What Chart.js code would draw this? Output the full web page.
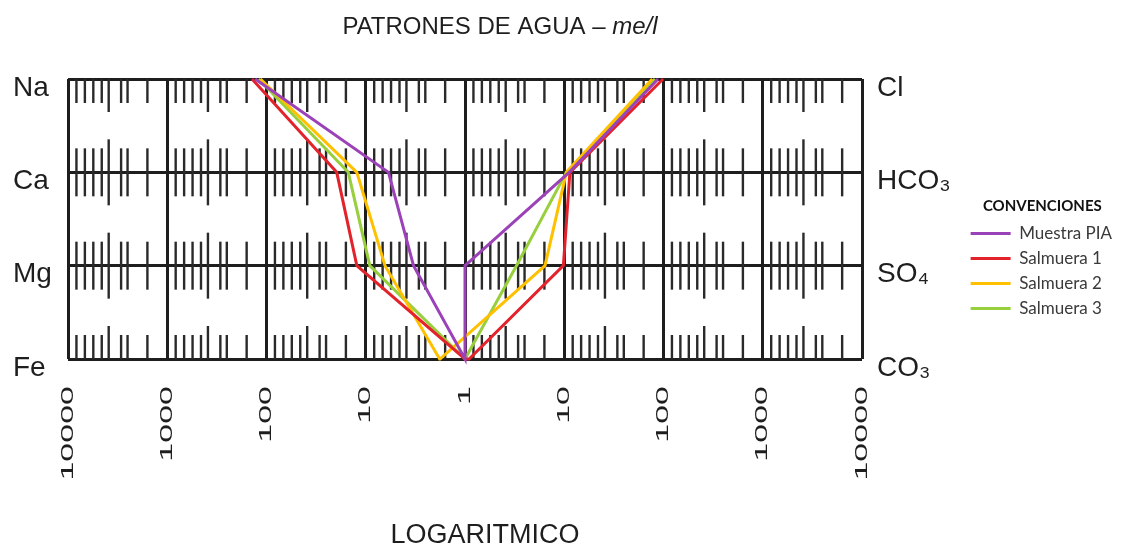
<!DOCTYPE html>
<html>
<head>
<meta charset="utf-8">
<script src="https://cdn.jsdelivr.net/npm/chart.js@4.4.1/dist/chart.umd.min.js"></script>
<style>
  html, body { margin: 0; padding: 0; background: #ffffff; }
  #wrap { width: 1122px; height: 548px; }
</style>
</head>
<body>
<div id="wrap"><canvas id="stiff" width="1122" height="548"></canvas></div>
<script>
// Stiff diagram: cations to the left of the "1" line, anions to the right, log scale in me/l.
const titleMain = 'PATRONES DE AGUA – ';
const titleUnit = 'me/l';
const axisCaption = 'LOGARITMICO';

const cationLabels = ['Na', 'Ca', 'Mg', 'Fe'];
const anionLabels = ['Cl', 'HCO₃', 'SO₄', 'CO₃'];
const decadeLabels = ['10000', '1000', '100', '10', '1', '10', '100', '1000', '10000'];

const seriesNames = ['Muestra PIA', 'Salmuera 1', 'Salmuera 2', 'Salmuera 3'];
const seriesColors = ['#9b42b8', '#e3232c', '#ffc000', '#98cf3c'];

// cations, me/l: Na, Ca, Mg, Fe
const muestraPiaCat = [130, 5.9, 3.3, 1.0];
const salmuera1Cat = [140, 19.6, 12.3, 1.0];
const salmuera2Cat = [115, 12.3, 6.4, 1.8];
const salmuera3Cat = [120, 15.0, 9.1, 1.0];

// anions, me/l: Cl, HCO3, SO4, CO3
const muestraPiaAn = [88, 11.2, 1.0, 1.0];
const salmuera1An = [99, 11.4, 9.8, 1.1];
const salmuera2An = [77, 10.5, 6.4, 0.56];
const salmuera3An = [82, 10.5, 3.3, 1.0];

const cationSets = [muestraPiaCat, salmuera1Cat, salmuera2Cat, salmuera3Cat];
const anionSets = [muestraPiaAn, salmuera1An, salmuera2An, salmuera3An];

// printed log-paper hash marks inside each decade (fraction of the decade width)
const paperTicks = [0.085, 0.17, 0.255, 0.34, 0.41, 0.535, 0.60, 0.80];
const longPaperTick = 0.41;

const TOP_ROW = cationLabels.length - 1;

// Row 3 = Na/Cl ... row 0 = Fe/CO3; cations get negative log positions, anions positive.
function stiffPolygon(cat, an) {
  const pts = [];
  cat.forEach((v, i) => pts.push({ x: -Math.log10(v), y: TOP_ROW - i }));
  for (let i = an.length - 1; i >= 0; i--) {
    pts.push({ x: Math.log10(an[i]), y: TOP_ROW - i });
  }
  return pts;
}

const datasets = seriesNames.map((name, i) => ({
  label: name,
  data: stiffPolygon(cationSets[i], anionSets[i]),
  borderColor: seriesColors[i],
  backgroundColor: seriesColors[i],
  borderWidth: 3,
  pointRadius: 0,
  tension: 0,
  fill: false,
  clip: false
}));

const GRID_COLOR = '#1e1e1e';
const TEXT_COLOR = '#1e1e1e';
const LABEL_STRETCH = 2.0;

const paperPlugin = {
  id: 'paperTicks',
  beforeDatasetsDraw(chart) {
    const { ctx } = chart;
    const xs = chart.scales.x, ys = chart.scales.y;
    ctx.save();
    ctx.strokeStyle = '#2a2a2a';
    ctx.lineWidth = 2.4;
    for (let d = -4; d < 4; d++) {
      for (const f of paperTicks) {
        const px = xs.getPixelForValue(d + f);
        const len = f === longPaperTick ? 33 : 24;
        for (let r = 0; r <= TOP_ROW; r++) {
          const py = ys.getPixelForValue(r);
          const up = r < TOP_ROW ? len : 0;
          const down = r > 0 ? len : 0;
          ctx.beginPath();
          ctx.moveTo(px, py - up);
          ctx.lineTo(px, py + down);
          ctx.stroke();
        }
      }
    }
    ctx.restore();
  }
};

// the decade numbers under the grid are printed tall and wide
const stretchedLabels = {
  id: 'stretchedLabels',
  beforeDraw(chart) {
    const sc = chart.scales.x;
    if (!sc || sc._stretchPatched) return;
    const orig = sc.drawLabels;
    sc.drawLabels = function (area) {
      const ctx = this.ctx;
      const fill = ctx.fillText;
      ctx.fillText = function (t, px, py) {
        this.save();
        this.translate(px, py);
        this.scale(LABEL_STRETCH, 1);
        fill.call(this, t, 0, 0);
        this.restore();
      };
      try { orig.call(this, area); } finally { delete ctx.fillText; }
    };
    sc._stretchPatched = true;
  }
};

const captions = {
  id: 'captions',
  afterDraw(chart) {
    const { ctx, chartArea } = chart;
    const mid = (chartArea.left + chartArea.right) / 2;
    ctx.save();
    ctx.fillStyle = TEXT_COLOR;
    ctx.textBaseline = 'alphabetic';
    const reg = "24px 'Liberation Sans', Arial, sans-serif";
    const ita = "italic 24px 'Liberation Sans', Arial, sans-serif";
    ctx.font = reg;
    const w1 = ctx.measureText(titleMain).width;
    ctx.font = ita;
    const w2 = ctx.measureText(titleUnit).width;
    const x0 = mid + 35 - (w1 + w2) / 2;
    ctx.textAlign = 'left';
    ctx.font = reg;
    ctx.fillText(titleMain, x0, 34);
    ctx.font = ita;
    ctx.fillText(titleUnit, x0 + w1, 34);
    ctx.font = "27px 'Liberation Sans', Arial, sans-serif";
    ctx.textAlign = 'center';
    ctx.fillText(axisCaption, mid + 20, 543);
    ctx.restore();
  }
};

const rowFont = { family: "'Liberation Sans', Arial, sans-serif", size: 28 };

new Chart(document.getElementById('stiff'), {
  type: 'line',
  data: { datasets },
  plugins: [paperPlugin, stretchedLabels, captions],
  options: {
    responsive: false,
    animation: false,
    layout: { padding: { left: 13, right: 0, top: 79, bottom: 0 } },
    plugins: {
      tooltip: { enabled: false },
      title: { display: false },
      legend: {
        position: 'right',
        align: 'start',
        title: {
          display: true,
          text: 'CONVENCIONES',
          color: '#111111',
          position: 'center',
          font: { family: 'Lato', size: 15, weight: 'bold' },
          padding: { top: 120, bottom: 0 }
        },
        labels: {
          boxWidth: 40,
          boxHeight: 3,
          padding: 8,
          color: '#3a3a3a',
          font: { family: 'Lato', size: 17 },
          generateLabels(chart) {
            return chart.data.datasets.map((ds, i) => ({
              text: ds.label,
              fillStyle: ds.borderColor,
              strokeStyle: ds.borderColor,
              lineWidth: 0,
              hidden: false,
              datasetIndex: i,
              fontColor: '#3a3a3a'
            }));
          }
        }
      }
    },
    scales: {
      x: {
        type: 'linear',
        min: -4,
        max: 4,
        position: 'bottom',
        border: { display: false },
        grid: { color: GRID_COLOR, lineWidth: 3, drawTicks: false },
        ticks: {
          stepSize: 1,
          autoSkip: false,
          minRotation: 90,
          maxRotation: 90,
          padding: 27,
          color: TEXT_COLOR,
          font: { family: "'Liberation Sans', Arial, sans-serif", size: 17 },
          callback: (v) => Number.isInteger(v) ? decadeLabels[v + 4] : ''
        },
        afterFit(s) { s.height = 189; }
      },
      y: {
        type: 'linear',
        min: 0,
        max: TOP_ROW,
        position: 'left',
        border: { display: false },
        grid: { color: GRID_COLOR, lineWidth: 3, drawTicks: false },
        ticks: {
          stepSize: 1,
          padding: 0,
          crossAlign: 'far',
          labelOffset: 9,
          color: TEXT_COLOR,
          font: rowFont,
          callback: (v) => Number.isInteger(v) ? cationLabels[TOP_ROW - v] : ''
        },
        afterFit(s) { s.width = 55; }
      },
      y2: {
        type: 'linear',
        min: 0,
        max: TOP_ROW,
        position: 'right',
        border: { display: false },
        grid: { display: false, drawTicks: false },
        ticks: {
          stepSize: 1,
          padding: 15,
          labelOffset: 9,
          color: TEXT_COLOR,
          font: rowFont,
          callback: (v) => Number.isInteger(v) ? anionLabels[TOP_ROW - v] : ''
        },
        afterFit(s) {
          const legendW = s.chart.legend ? s.chart.legend.width : 0;
          s.width = Math.max(0, s.chart.width - 862 - legendW);
        }
      }
    }
  }
});
</script>
</body>
</html>
